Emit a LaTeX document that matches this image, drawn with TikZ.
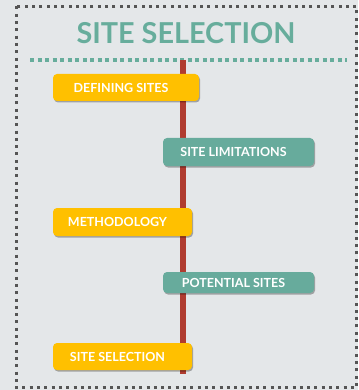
\documentclass[tikz,border=0pt]{standalone}
\usepackage{fontspec}
\setmainfont{Lato}
\usepackage{tikz}
\usetikzlibrary{positioning, shadows}
\definecolor{bgcolor}{RGB}{228,231,233}
\definecolor{framecolor}{RGB}{85,85,85}
\definecolor{titlecolor}{RGB}{103,173,156}
\definecolor{stagecolor}{RGB}{255,192,0}
\definecolor{resultcolor}{RGB}{103,171,156}
\definecolor{spinecolor}{RGB}{176,60,48}

\begin{document}
\begin{tikzpicture}[
    x=1pt, y=-1pt,
    stepbox/.style={rounded corners=4pt, text=white, font=\bfseries\fontsize{12.5}{14}\selectfont,
        inner sep=0pt, execute at end node={\hspace*{10pt}},
        drop shadow={shadow xshift=1pt, shadow yshift=-1.5pt, opacity=0.3, fill=black}},
    stage/.style={stepbox, fill=stagecolor},
    result/.style={stepbox, fill=resultcolor}
]
    % Background and dotted frame
    \fill[bgcolor] (0,0) rectangle (358,390);
    \draw[framecolor, line width=3pt, dash pattern=on 3pt off 4.3pt] (16.5,6.5) rectangle (356.5,387.5);

    % Title
    \node[font=\bfseries\fontsize{28.8}{32}\selectfont, text=titlecolor] (title) at (186,33) {SITE SELECTION};
    \draw[titlecolor, line width=4pt, dash pattern=on 4pt off 3.5pt] (30,60) -- (347,60);

    % Timeline spine
    \coordinate (spinetop) at (183,60);
    \coordinate (spinebot) at (183,374);
    \draw[spinecolor, line width=6pt] (spinetop) -- (spinebot);

    % Steps
    \node[stage, minimum width=146pt, minimum height=27pt] (defining) at (126,87.5) {DEFINING SITES};
    \node[result, minimum width=151pt, minimum height=28pt] (limitations) at (238.5,152) {SITE LIMITATIONS};
    \node[stage, minimum width=139pt, minimum height=28pt] (methodology) at (122.5,222) {METHODOLOGY};
    \node[result, minimum width=151pt, minimum height=21pt] (potential) at (238.5,282.5) {POTENTIAL SITES};
    \node[stage, minimum width=139pt, minimum height=27pt] (selection) at (122.5,356.5) {SITE SELECTION};
\end{tikzpicture}
\end{document}
